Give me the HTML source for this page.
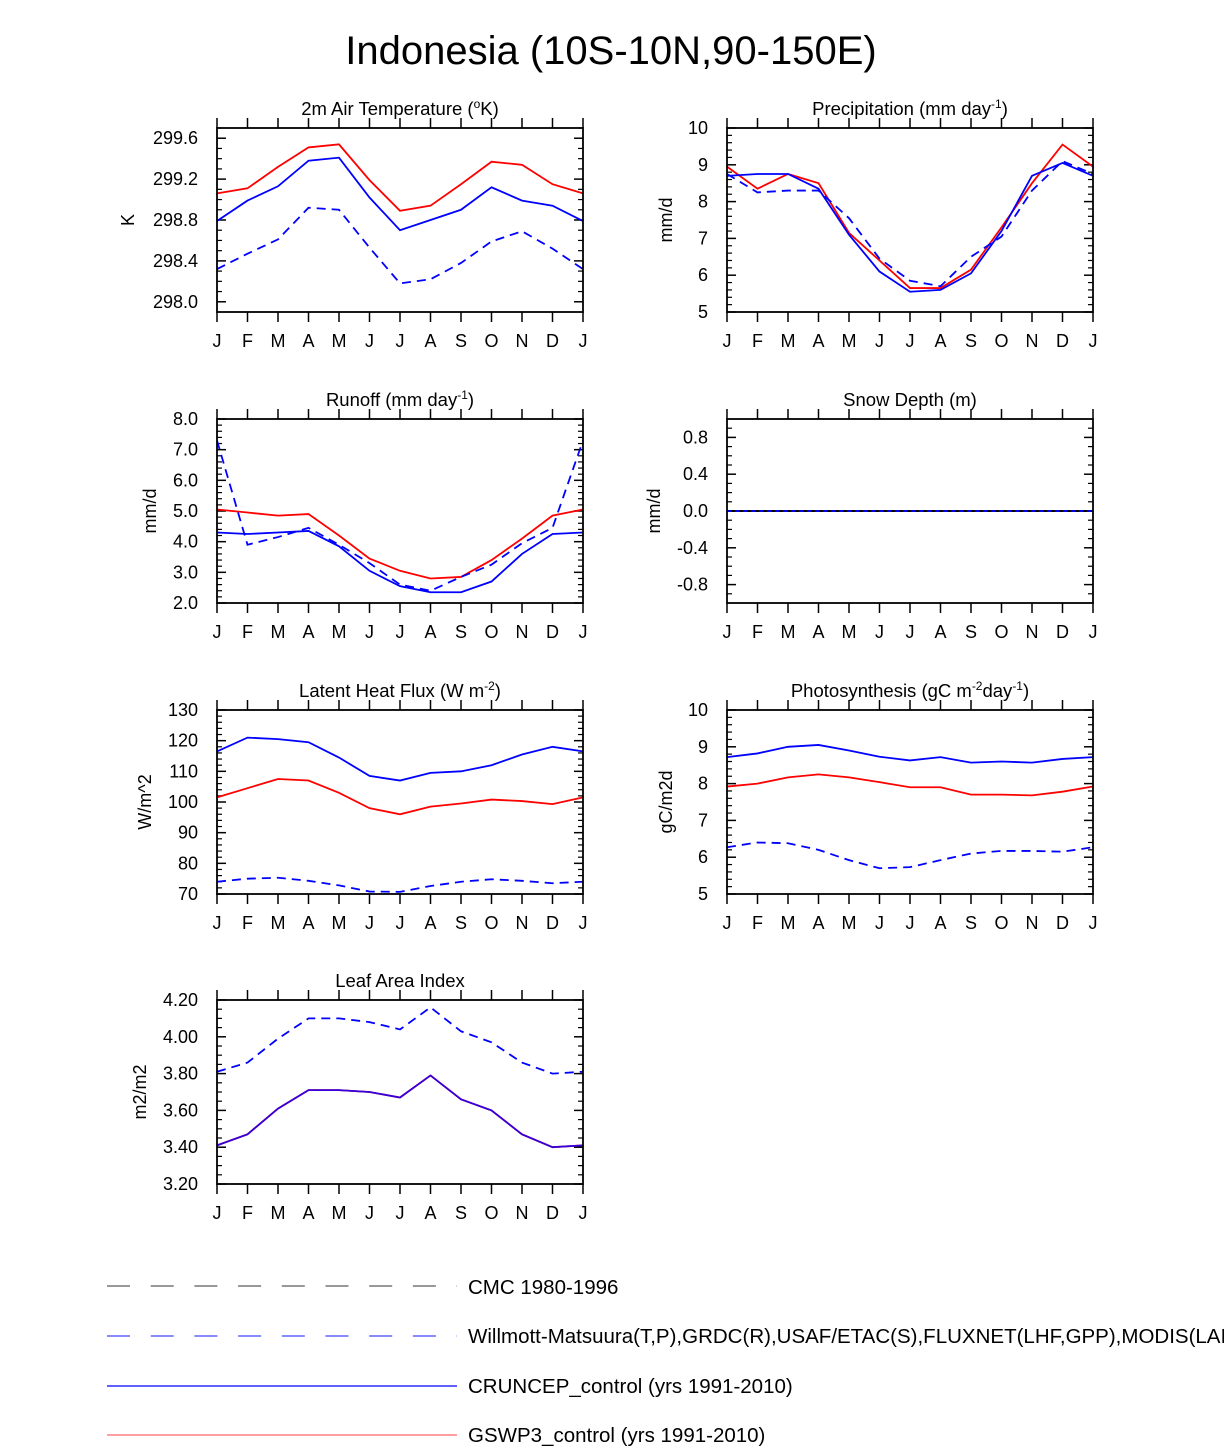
<!DOCTYPE html>
<html><head><meta charset="utf-8"><style>
body{margin:0;background:#fff;width:1224px;height:1447px;overflow:hidden}
svg text{font-family:"Liberation Sans",Arial,sans-serif;fill:#000}
</style></head><body>
<svg id="c" width="1224" height="1447" xmlns="http://www.w3.org/2000/svg">
<text x="611" y="64" font-size="40" text-anchor="middle">Indonesia (10S-10N,90-150E)</text>
<g>
<line x1="107" y1="1286" x2="457" y2="1286" stroke="#777" stroke-width="1.5" stroke-dasharray="23 20.7"/>
<text x="468" y="1294" font-size="20.5">CMC 1980-1996</text>
<line x1="107" y1="1336" x2="457" y2="1336" stroke="#44f" stroke-width="1.2" stroke-dasharray="23 20.7"/>
<text x="468" y="1343" font-size="20.5">Willmott-Matsuura(T,P),GRDC(R),USAF/ETAC(S),FLUXNET(LHF,GPP),MODIS(LAI)</text>
<line x1="107" y1="1386" x2="457" y2="1386" stroke="#00f" stroke-width="1.2"/>
<text x="468" y="1393" font-size="20.5">CRUNCEP_control (yrs 1991-2010)</text>
<line x1="107" y1="1435" x2="457" y2="1435" stroke="#f66" stroke-width="1.2"/>
<text x="468" y="1442" font-size="20.5">GSWP3_control (yrs 1991-2010)</text>
</g>
</svg>
<script>
const months=["J","F","M","A","M","J","J","A","S","O","N","D","J"];
const tRed=[299.06,299.11,299.32,299.51,299.54,299.19,298.89,298.94,299.15,299.37,299.34,299.15,299.06];
const tBlue=[298.79,298.99,299.13,299.38,299.41,299.02,298.70,298.80,298.90,299.12,298.99,298.94,298.79];
const tObs=[298.32,298.47,298.61,298.92,298.90,298.53,298.18,298.22,298.38,298.59,298.69,298.52,298.32];
const tTicks=["298.0","298.4","298.8","299.2","299.6"];
const pRed=[8.95,8.35,8.75,8.5,7.15,6.4,5.65,5.65,6.15,7.3,8.5,9.55,8.95];
const pBlue=[8.7,8.75,8.75,8.35,7.1,6.1,5.55,5.6,6.05,7.2,8.7,9.05,8.7];
const pObs=[8.75,8.25,8.3,8.3,7.55,6.45,5.85,5.7,6.5,7.05,8.3,9.1,8.75];
const pTicks=["5","6","7","8","9","10"];
const rRed=[5.05,4.95,4.85,4.9,4.2,3.45,3.05,2.8,2.85,3.4,4.1,4.85,5.05];
const rBlue=[4.3,4.25,4.3,4.35,3.85,3.05,2.55,2.35,2.35,2.7,3.6,4.25,4.3];
const rObs=[7.3,3.9,4.15,4.45,3.9,3.3,2.6,2.4,2.85,3.25,3.95,4.45,7.3];
const rTicks=["2.0","3.0","4.0","5.0","6.0","7.0","8.0"];
const sRed=[0,0,0,0,0,0,0,0,0,0,0,0,0];
const sBlue=[0,0,0,0,0,0,0,0,0,0,0,0,0];
const sObs=[0,0,0,0,0,0,0,0,0,0,0,0,0];
const sTicks=["-0.8","-0.4","0.0","0.4","0.8"];
const lBlue=[116.5,121,120.5,119.5,114.5,108.5,107,109.5,110,112,115.5,118,116.5];
const lRed=[101.5,104.5,107.5,107,103,98,96,98.5,99.5,100.8,100.3,99.3,101.5];
const lObs=[74,75,75.3,74.3,72.8,70.8,70.7,72.6,74,74.8,74.3,73.5,74];
const lTicks=["70","80","90","100","110","120","130"];
const gBlue=[8.72,8.82,9.0,9.05,8.9,8.73,8.63,8.72,8.57,8.6,8.57,8.67,8.72];
const gRed=[7.92,8.0,8.17,8.25,8.17,8.04,7.9,7.9,7.7,7.7,7.68,7.78,7.92];
const gObs=[6.27,6.4,6.38,6.2,5.92,5.7,5.73,5.92,6.1,6.17,6.17,6.15,6.27];
const gTicks=["5","6","7","8","9","10"];
const aBlue=[3.41,3.47,3.61,3.71,3.71,3.70,3.67,3.79,3.66,3.60,3.47,3.40,3.41];
const aRed=[3.41,3.47,3.61,3.71,3.71,3.70,3.67,3.79,3.66,3.60,3.47,3.40,3.41];
const aObs=[3.81,3.86,3.99,4.10,4.10,4.08,4.04,4.16,4.03,3.97,3.86,3.80,3.81];
const aTicks=["3.20","3.40","3.60","3.80","4.00","4.20"];

const NS="http://www.w3.org/2000/svg";
const svg=document.getElementById('c');
function mk(tag,attrs,parent){const e=document.createElementNS(NS,tag);for(const k in attrs)e.setAttribute(k,attrs[k]);(parent||svg).appendChild(e);return e;}
function panel(name,x0,y0,title,ytitle,ytx,ymin,ymax,ticks,minorPer,series){
  const W=366,H=184;
  const g=mk('g',{});
  
  
  const sx=i=>x0+i*W/12, sy=v=>y0+H-(v-ymin)/(ymax-ymin)*H;
  const t=mk('text',{x:x0+W/2,y:y0-13,'font-size':18.5,'text-anchor':'middle'},g);
  t.innerHTML=title;
  
  
  const yt=mk('text',{x:0,y:0,'font-size':18,'text-anchor':'middle',transform:`translate(${ytx},${y0+H/2}) rotate(-90)`},g);
  yt.textContent=ytitle;
  
  
  const vals=ticks.map(Number);const step=vals[1]-vals[0];
  for(let k=-1;k<vals.length;k++){
    for(let m=1;m<=minorPer;m++){
      const v=vals[0]+k*step+m*step/(minorPer+1);
      if(v<=ymin||v>=ymax)continue;
      const y=sy(v);
      mk('line',{x1:x0,x2:x0+5,y1:y,y2:y,stroke:'#000','stroke-width':1.2},g);
      mk('line',{x1:x0+W,x2:x0+W-5,y1:y,y2:y,stroke:'#000','stroke-width':1.2},g);
    }
  }
  ticks.forEach((lab,i)=>{
    const y=sy(vals[i]);
    mk('line',{x1:x0,x2:x0+9,y1:y,y2:y,stroke:'#000','stroke-width':1.5},g);
    mk('line',{x1:x0+W,x2:x0+W-9,y1:y,y2:y,stroke:'#000','stroke-width':1.5},g);
    const tx=mk('text',{x:x0-19,y:y+6,'font-size':18,'text-anchor':'end'},g);
    tx.textContent=lab;
    
    
  });
  months.forEach((m,i)=>{
    const x=sx(i);
    mk('line',{x1:x,x2:x,y1:y0+H,y2:y0+H+10,stroke:'#000','stroke-width':1.5},g);
    mk('line',{x1:x,x2:x,y1:y0,y2:y0-10,stroke:'#000','stroke-width':1.5},g);
    const tx=mk('text',{x:x,y:y0+H+35,'font-size':18,'text-anchor':'middle'},g);
    tx.textContent=m;
    
    
  });
  series.forEach(s=>{
    const p=mk('polyline',{points:s.d.map((v,i)=>sx(i)+','+sy(v)).join(' '),fill:'none',stroke:s.c,'stroke-width':1.8,'stroke-dasharray':s.dash||'none'},g);
    
    
  });
  mk('rect',{x:x0,y:y0,width:W,height:H,fill:'none',stroke:'#000','stroke-width':1.8},g);
}
const S=(r,b,o)=>[{d:r,c:'#f00',n:'gswp3'},{d:b,c:'#00f',n:'cruncep'},{d:o,c:'#00f',dash:'9 6',n:'obs'}];
panel('air-temperature',217,128,'2m Air Temperature (<tspan baseline-shift="super" font-size="12">o</tspan>K)','K',134,297.9,299.7,tTicks,3,S(tRed,tBlue,tObs));
panel('precipitation',727,128,'Precipitation (mm day<tspan baseline-shift="super" font-size="12">-1</tspan>)','mm/d',672,5,10,pTicks,4,S(pRed,pBlue,pObs));
panel('runoff',217,419,'Runoff (mm day<tspan baseline-shift="super" font-size="12">-1</tspan>)','mm/d',156,2,8,rTicks,4,S(rRed,rBlue,rObs));
panel('snow-depth',727,419,'Snow Depth (m)','mm/d',660,-1,1,sTicks,3,[{d:sRed,c:'#000',n:'gswp3'},{d:sBlue,c:'#000',n:'cruncep'},{d:sObs,c:'#00f',dash:'4 4',n:'obs'}]);
panel('latent-heat',217,710,'Latent Heat Flux (W m<tspan baseline-shift="super" font-size="12">-2</tspan>)','W/m^2',151,70,130,lTicks,4,S(lRed,lBlue,lObs));
panel('photosynthesis',727,710,'Photosynthesis (gC m<tspan baseline-shift="super" font-size="12">-2</tspan>day<tspan baseline-shift="super" font-size="12">-1</tspan>)','gC/m2d',672,5,10,gTicks,4,S(gRed,gBlue,gObs));
panel('leaf-area-index',217,1000,'Leaf Area Index','m2/m2',146,3.2,4.2,aTicks,3,[{d:aRed,c:'#f00',n:'gswp3'},{d:aBlue,c:'#3300dd',n:'cruncep'},{d:aObs,c:'#00f',dash:'9 6',n:'obs'}]);
</script>
</body></html>
